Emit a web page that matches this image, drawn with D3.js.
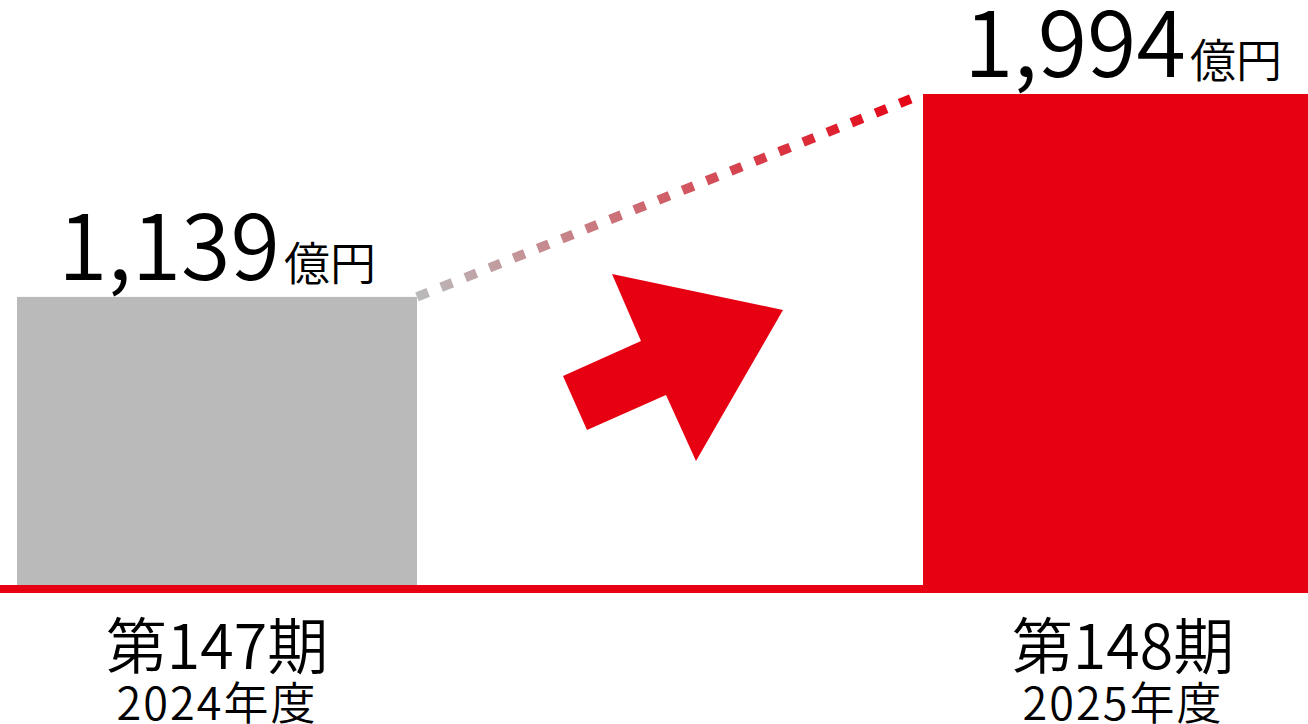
<!DOCTYPE html>
<html>
<head>
<meta charset="utf-8">
<script src="https://cdn.jsdelivr.net/npm/d3@7"></script>
<style>
  body { margin: 0; background: #fff; }
  svg { display: block; font-family: "Noto Sans CJK JP", "Noto Sans", sans-serif; }
</style>
</head>
<body>
<div id="chart"></div>
<script>
const periods = ["第147期", "第148期"];
const years = ["2024年度", "2025年度"];
const values = [1139, 1994];
const unit = "億円";

const width = 1308
const height = 724
const baseY = 585

const gray = "#bababa"
const red = "#e60012"

const svg = d3.select("#chart")
    .append("svg")
    .attr("width", width)
    .attr("height", height);

const x = d3.scaleBand().domain(periods).range([17, 1323]).paddingInner(506 / 906).paddingOuter(0);
const y = d3.scaleLinear().domain([-75, d3.max(values)]).range([baseY, 94]);

const defs = svg.append("defs");
const grad = defs.append("linearGradient")
    .attr("id", "dotgrad")
    .attr("gradientUnits", "userSpaceOnUse")
    .attr("x1", x(periods[0]) + x.bandwidth()).attr("y1", y(values[0]))
    .attr("x2", x(periods[1])).attr("y2", y(values[1]));
grad.append("stop").attr("offset", "0%").attr("stop-color", gray);
grad.append("stop").attr("offset", "100%").attr("stop-color", red);

// bars
svg.selectAll(".bar").data(values).enter().append("rect")
    .attr("class", "bar")
    .attr("x", (d, i) => x(periods[i]))
    .attr("y", d => y(d))
    .attr("width", x.bandwidth())
    .attr("height", d => baseY - y(d))
    .attr("fill", (d, i) => i === 0 ? gray : red);

// dotted connector
svg.append("line")
    .attr("x1", x(periods[0]) + x.bandwidth()).attr("y1", y(values[0]))
    .attr("x2", x(periods[1])).attr("y2", y(values[1]))
    .attr("stroke", "url(#dotgrad)")
    .attr("stroke-width", 9.5)
    .attr("stroke-dasharray", "12 14");

// baseline
svg.append("line")
    .attr("x1", 0).attr("x2", width)
    .attr("y1", baseY + 4).attr("y2", baseY + 4)
    .attr("stroke", red)
    .attr("stroke-width", 8);

// arrow between the bars
const arrowPts = [[-83, 62], [-107, 8], [-29, -27], [-58, -94], [113, -58], [26, 93], [-4, 27]];
const ax = (x(periods[0]) + x.bandwidth() + x(periods[1])) / 2;
const ay = 368;
svg.append("polygon")
    .attr("points", arrowPts.map(p => [ax + p[0], ay + p[1]].join(",")).join(" "))
    .attr("fill", red);

// value labels
const vl = svg.selectAll(".val").data(values).enter().append("text")
    .attr("class", "val")
    .attr("x", (d, i) => x(periods[i]) + x.bandwidth() / 2)
    .attr("y", d => y(d) - 17)
    .attr("text-anchor", "middle")
    .attr("font-weight", 350)
    .attr("fill", "#000");
vl.append("tspan").attr("font-size", 90).text(d => d3.format(",")(d));
vl.append("tspan").attr("font-size", 46).attr("dx", 4).text(unit);

// category labels
svg.selectAll(".cat").data(periods).enter().append("text")
    .attr("x", d => x(d) + x.bandwidth() / 2)
    .attr("y", 669)
    .attr("text-anchor", "middle")
    .attr("font-size", 61)
    .attr("font-weight", 350)
    .text(d => d);

svg.selectAll(".yr").data(years).enter().append("text")
    .attr("x", (d, i) => x(periods[i]) + x.bandwidth() / 2)
    .attr("y", 720)
    .attr("text-anchor", "middle")
    .attr("font-size", 45)
    .attr("font-weight", 350)
    .attr("letter-spacing", 2)
    .text(d => d);
</script>
</body>
</html>
